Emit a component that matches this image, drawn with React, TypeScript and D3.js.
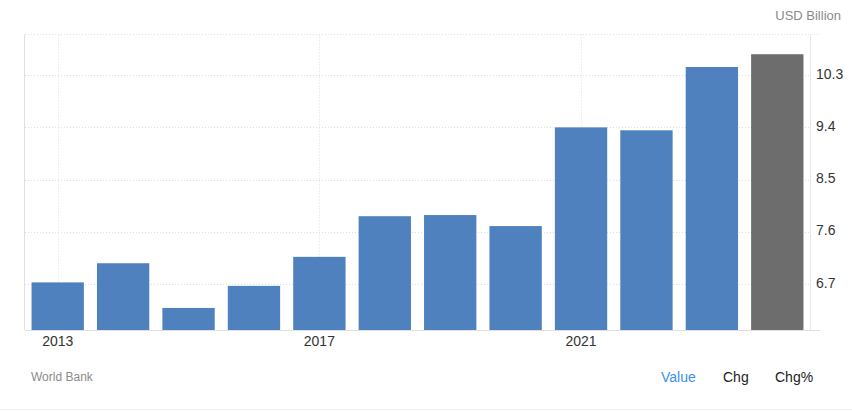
import React from "react";
import * as d3 from "d3";

const years = ["2013","2014","2015","2016","2017","2018","2019","2020","2021","2022","2023","2024"];
const values = [6.73, 7.06, 6.29, 6.67, 7.17, 7.87, 7.89, 7.70, 9.40, 9.35, 10.44, 10.66];
const forecastFlags = [false,false,false,false,false,false,false,false,false,false,false,true];
const yTicks = [6.7, 7.6, 8.5, 9.4, 10.3];
const xTickLabels = ["2013", "2017", "2021"];
const unitLabel = "USD Billion";
const sourceLabel = "World Bank";
const tabs = ["Value", "Chg", "Chg%"];

const W = 852, H = 412;
const left = 25, right = 810, top = 34.5, bottom = 330;
const FONT = "Arial, 'Liberation Sans', sans-serif";

export default function App() {
  const x = d3.scaleBand<string>().domain(years).range([left, right]).paddingInner(0.2).paddingOuter(0.1);
  const y = d3.scaleLinear().domain([5.91, 11.0]).range([bottom, top]);
  const bw = x.bandwidth();
  return (
    <svg width={W} height={H} style={{ position: "absolute", left: 0, top: 0, background: "#fff" }}>
      {yTicks.map((t) => (
        <line key={"g" + t} x1={left} x2={right} y1={Math.round(y(t)) + 0.5} y2={Math.round(y(t)) + 0.5}
          stroke="#dedede" strokeDasharray="1,2" />
      ))}
      <line x1={left} x2={820} y1={top} y2={top} stroke="#dedede" strokeDasharray="1,2" />
      {xTickLabels.map((t) => (
        <line key={"v" + t} x1={Math.round(x(t)! + bw / 2) + 0.5} x2={Math.round(x(t)! + bw / 2) + 0.5}
          y1={top} y2={bottom} stroke="#dedede" strokeDasharray="1,2" />
      ))}
      {years.map((yr, i) => (
        <rect key={yr} x={x(yr)} y={y(values[i])} width={bw} height={bottom - y(values[i])}
          fill={forecastFlags[i] ? "#6d6d6d" : "#4e81bd"} />
      ))}
      <line x1={left - 0.5} x2={left - 0.5} y1={top} y2={bottom} stroke="#e0e0e0" />
      <line x1={right + 0.5} x2={right + 0.5} y1={top} y2={bottom} stroke="#e6e6e6" />
      <line x1={left} x2={820} y1={bottom + 0.5} y2={bottom + 0.5} stroke="#e0e0e0" />
      {yTicks.map((t) => (
        <text key={"t" + t} x={816} y={y(t) + 3.5} fontFamily={FONT} fontSize={14} fill="#333">
          {t.toFixed(1)}
        </text>
      ))}
      {xTickLabels.map((t) => (
        <text key={"x" + t} x={x(t)! + bw / 2} y={346} textAnchor="middle" fontFamily={FONT} fontSize={14} fill="#333">
          {t}
        </text>
      ))}
      <text x={841} y={20} textAnchor="end" fontFamily={FONT} fontSize={13} fill="#8a8a8a">{unitLabel}</text>
      <text x={31} y={381} fontFamily={FONT} fontSize={12} fill="#8a8a8a">{sourceLabel}</text>
      <text x={661} y={382} fontFamily={FONT} fontSize={14} fill="#3d8ee9">{tabs[0]}</text>
      <text x={723} y={382} fontFamily={FONT} fontSize={14} fill="#222">{tabs[1]}</text>
      <text x={775} y={382} fontFamily={FONT} fontSize={14} fill="#222">{tabs[2]}</text>
      <line x1={0} x2={W} y1={409.5} y2={409.5} stroke="#f0f0f0" />
    </svg>
  );
}
